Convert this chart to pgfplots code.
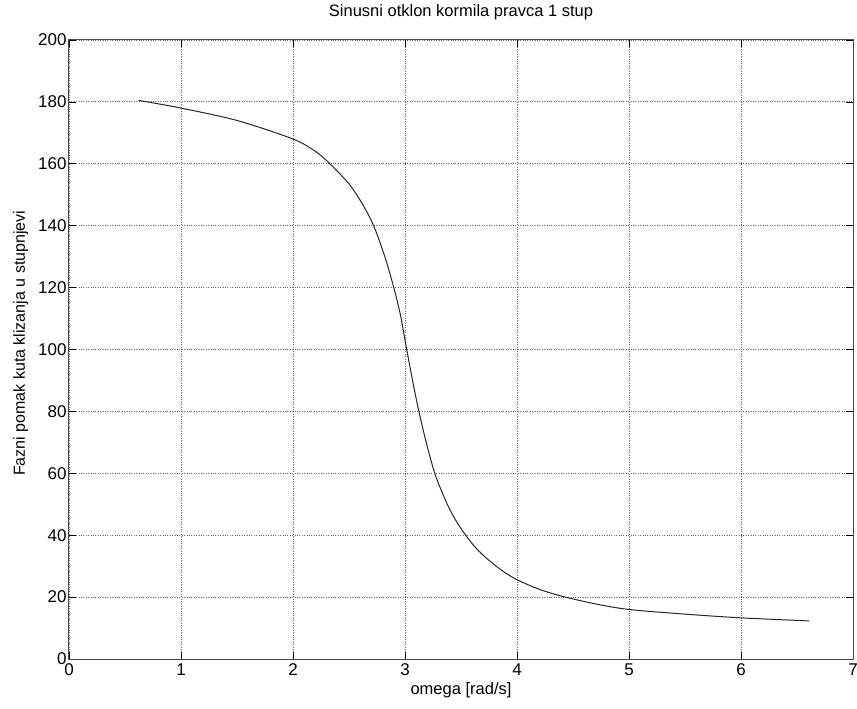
\documentclass[border=0pt]{standalone}
\usepackage{fontspec}
\setmainfont{Liberation Sans}
\usepackage{pgfplots}
\pgfplotsset{compat=1.18}
\begin{document}
\begin{tikzpicture}
\begin{axis}[
  scale only axis,
  width=784pt,height=619pt,
  xmin=0,xmax=7,ymin=0,ymax=200,
  xtick={0,1,...,7},
  ytick={0,20,...,200},
  tick align=inside,
  major tick length=7pt,
  tick style={black,line width=0.6pt},
  axis line style={black!70,line width=1pt},
  grid=major,
  grid style={dotted,black!60,line width=0.8pt},
  /pgf/number format/assume math mode=true,
  tick label style={font=\fontsize{17}{20}\selectfont},
  yticklabel style={xshift=1pt},
  xticklabel style={yshift=-1pt},
  title={Sinusni otklon kormila pravca 1 stup},
  title style={font=\fontsize{16.5}{20}\selectfont,
    at={(axis description cs:0.5,1.0355)},anchor=center},
  xlabel={omega [rad/s]},
  xlabel style={font=\fontsize{16.5}{20}\selectfont,
    at={(axis description cs:0.5,-0.05)},anchor=center},
  ylabel={Fazni pomak kuta klizanja u stupnjevi},
  ylabel style={font=\fontsize{16}{19}\selectfont,
    at={(axis description cs:-0.0615,0.51)},anchor=center},
]
\addplot[black!85,line width=1pt,smooth] coordinates {
(0.62,180.5) (1.0,178) (1.5,174) (2.0,168) (2.2,164) (2.33,160)
(2.5,153.5) (2.62,147) (2.72,140) (2.82,130) (2.90,120) (2.96,111)
(3.01,101) (3.07,89.5) (3.13,79) (3.20,68.5) (3.275,59) (3.38,49.8)
(3.46,44.4) (3.55,39.6) (3.63,36) (3.72,32.8) (3.85,29) (3.99,25.8)
(4.2,22.5) (4.41,20.2) (4.7,17.8) (5.0,16) (5.5,14.5) (6.0,13.3) (6.61,12.3)
};
\end{axis}
\pgfresetboundingbox
\useasboundingbox ([shift={(-69pt,-49pt)}]current axis.south west)
  rectangle ([shift={(4pt,40pt)}]current axis.north east);
\end{tikzpicture}
\end{document}
